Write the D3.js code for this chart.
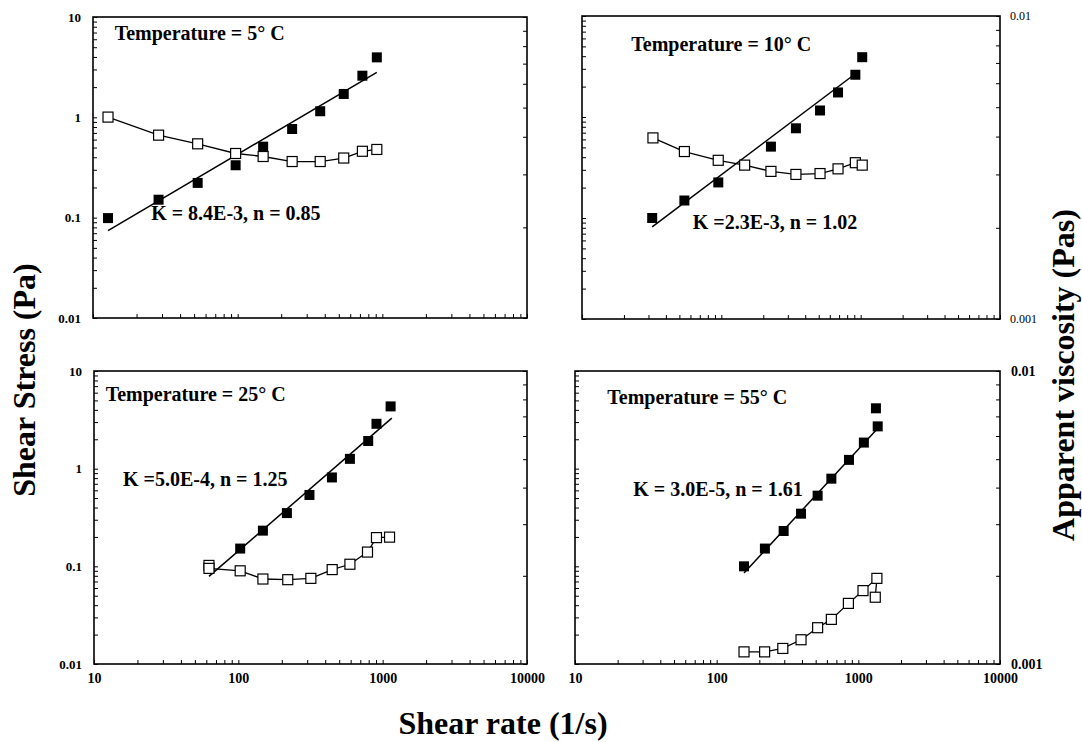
<!DOCTYPE html>
<html>
<head>
<meta charset="utf-8">
<script src="https://cdn.jsdelivr.net/npm/d3@7"></script>
<style>
  body { margin: 0; background: #fff; }
  text { font-family: "Liberation Serif", "Times New Roman", serif; font-weight: bold; fill: #000; }
</style>
</head>
<body>
<svg id="chart" width="1082" height="742"></svg>
<script>
// ---- data ----
var temps = ["5", "10", "25", "55"];
var fitLabels = ["K = 8.4E-3, n = 0.85", "K =2.3E-3, n = 1.02", "K =5.0E-4, n = 1.25", "K = 3.0E-5, n = 1.61"];

var rateTicks = [10, 100, 1000, 10000];
var stressTicks = [0.01, 0.1, 1, 10];
var viscTicks = [0.001, 0.01];

// 5 C
var stressRate5 = [12.7, 28.4, 52.9, 96.8, 150, 238, 372, 541, 728, 916];
var stress5 = [0.099, 0.151, 0.222, 0.333, 0.51, 0.765, 1.15, 1.71, 2.6, 3.96];
var viscRate5 = [12.7, 28.4, 52.9, 96.8, 150, 238, 372, 541, 728, 916];
var visc5 = [0.00465, 0.00405, 0.00379, 0.00352, 0.00344, 0.00331, 0.00331, 0.0034, 0.00358, 0.00363];
var fit5 = [[12.7, 0.0742], [916, 2.81]];

// 10 C
var stressRate10 = [31.9, 54.3, 95.1, 227, 343, 511, 688, 916, 1026];
var stress10 = [0.1, 0.149, 0.225, 0.509, 0.773, 1.16, 1.75, 2.62, 3.91];
var viscRate10 = [32.3, 54.3, 95, 147, 227, 343, 511, 688, 916, 1026];
var visc10 = [0.00396, 0.00357, 0.00334, 0.00322, 0.00307, 0.0030, 0.00302, 0.00313, 0.00328, 0.00322];
var fit10 = [[31.9, 0.0815], [916, 2.68]];

// 25 C
var stressRate25 = [103, 148, 217, 311, 445, 593, 794, 906, 1135];
var stress25 = [0.152, 0.232, 0.351, 0.538, 0.813, 1.26, 1.92, 2.88, 4.34];
var viscRate25 = [62.6, 62.6, 103, 148, 220, 318, 447, 593, 785, 906, 1116];
var visc25 = [0.00217, 0.00212, 0.00208, 0.00195, 0.00194, 0.00196, 0.0021, 0.00219, 0.00241, 0.0027, 0.00271];
var fit25 = [[62.6, 0.0788], [1157, 3.29]];

// 55 C
var stressRate55 = [156, 219, 297, 394, 516, 645, 859, 1094, 1370, 1331];
var stress55 = [0.1, 0.152, 0.23, 0.346, 0.529, 0.79, 1.23, 1.85, 2.71, 4.15];
var viscRate55 = [156, 218, 293, 394, 516, 645, 851, 1079, 1352, 1317];
var visc55 = [0.0011, 0.0011, 0.00113, 0.00121, 0.00133, 0.00142, 0.00161, 0.00178, 0.00196, 0.00169];
var fit55 = [[156, 0.0855], [1378, 2.61]];

// ---- layout ----
var panels = [
  {x0: 93, x1: 527, y0: 17, y1: 318, left: true, right: false, bottom: false,
   sr: stressRate5, s: stress5, vr: viscRate5, v: visc5, fit: fit5,
   tPos: [0.05, 0.075], kPos: [0.134, 0.673]},
  {x0: 582, x1: 1000, y0: 16, y1: 319, left: false, right: true, bottom: false,
   rightWeight: 'normal', rightSize: '12px', rightPad: 10,
   sr: stressRate10, s: stress10, vr: viscRate10, v: visc10, fit: fit10,
   tPos: [0.118, 0.114], kPos: [0.265, 0.704]},
  {x0: 94, x1: 527, y0: 371, y1: 664, left: true, right: false, bottom: true,
   sr: stressRate25, s: stress25, vr: viscRate25, v: visc25, fit: fit25,
   tPos: [0.027, 0.103], kPos: [0.067, 0.391]},
  {x0: 575, x1: 1000, y0: 371, y1: 664, left: false, right: true, bottom: true,
   rightWeight: 'bold', rightSize: '14px', rightPad: 11,
   sr: stressRate55, s: stress55, vr: viscRate55, v: visc55, fit: fit55,
   tPos: [0.076, 0.111], kPos: [0.137, 0.426]}
];

var svg = d3.select('#chart');
var fmt = d3.format('~g');
var msize = 10;

function styleLabels(a, weight, size) {
  a.select('.domain').remove();
  a.selectAll('text').style('font-family', '"Liberation Serif", serif')
    .style('font-weight', weight).style('font-size', size);
}

panels.forEach(function(p, i) {
  var x = d3.scaleLog().domain([10, 10000]).range([p.x0, p.x1]);
  var yS = d3.scaleLog().domain([0.01, 10]).range([p.y1, p.y0]);
  var yV = d3.scaleLog().domain([0.001, 0.01]).range([p.y1, p.y0]);
  var g = svg.append('g');

  // inward minor ticks
  g.append('g').attr('transform', 'translate(' + p.x0 + ',0)')
    .call(d3.axisRight(yS).tickValues(yS.ticks()).tickSize(4).tickFormat(''))
    .call(function(a) { a.select('.domain').remove(); });
  g.append('g').attr('transform', 'translate(' + p.x1 + ',0)')
    .call(d3.axisLeft(yV).tickValues(yV.ticks()).tickSize(4).tickFormat(''))
    .call(function(a) { a.select('.domain').remove(); });
  g.append('g').attr('transform', 'translate(0,' + p.y1 + ')')
    .call(d3.axisTop(x).tickValues(x.ticks()).tickSize(4).tickFormat(''))
    .call(function(a) { a.select('.domain').remove(); });
  g.selectAll('.tick line').attr('stroke', '#000').attr('stroke-width', 1);

  // frame
  g.append('rect')
    .attr('x', p.x0).attr('y', p.y0)
    .attr('width', p.x1 - p.x0).attr('height', p.y1 - p.y0)
    .attr('fill', 'none').attr('stroke', '#000').attr('stroke-width', 1.6);

  // tick labels
  if (p.left) {
    g.append('g').attr('transform', 'translate(' + p.x0 + ',0)')
      .call(d3.axisLeft(yS).tickValues(stressTicks).tickFormat(fmt).tickSize(0).tickPadding(12))
      .call(function(a) { styleLabels(a, 'bold', '13px'); });
  }
  if (p.right) {
    g.append('g').attr('transform', 'translate(' + p.x1 + ',0)')
      .call(d3.axisRight(yV).tickValues(viscTicks).tickFormat(fmt).tickSize(0).tickPadding(p.rightPad))
      .call(function(a) { styleLabels(a, p.rightWeight, p.rightSize); });
  }
  if (p.bottom) {
    g.append('g').attr('transform', 'translate(0,' + p.y1 + ')')
      .call(d3.axisBottom(x).tickValues(rateTicks).tickFormat(fmt).tickSize(0).tickPadding(9))
      .call(function(a) { styleLabels(a, 'bold', '14px'); });
  }

  // viscosity line + power-law fit
  var vPts = p.vr.map(function(r, j) { return [r, p.v[j]]; });
  var sPts = p.sr.map(function(r, j) { return [r, p.s[j]]; });
  g.append('path').datum(vPts)
    .attr('d', d3.line().x(function(d) { return x(d[0]); }).y(function(d) { return yV(d[1]); }))
    .attr('fill', 'none').attr('stroke', '#000').attr('stroke-width', 1.3);
  g.append('path').datum(p.fit)
    .attr('d', d3.line().x(function(d) { return x(d[0]); }).y(function(d) { return yS(d[1]); }))
    .attr('fill', 'none').attr('stroke', '#000').attr('stroke-width', 1.5);

  g.selectAll('rect.filled').data(sPts).enter().append('rect')
    .attr('class', 'filled')
    .attr('x', function(d) { return x(d[0]) - msize / 2; })
    .attr('y', function(d) { return yS(d[1]) - msize / 2; })
    .attr('width', msize).attr('height', msize)
    .attr('fill', '#000');
  g.selectAll('rect.open').data(vPts).enter().append('rect')
    .attr('class', 'open')
    .attr('x', function(d) { return x(d[0]) - msize / 2; })
    .attr('y', function(d) { return yV(d[1]) - msize / 2; })
    .attr('width', msize).attr('height', msize)
    .attr('fill', '#fff').attr('stroke', '#000').attr('stroke-width', 1.2);

  // annotations
  var w = p.x1 - p.x0, h = p.y1 - p.y0;
  g.append('text')
    .attr('x', p.x0 + w * p.tPos[0]).attr('y', p.y0 + h * p.tPos[1])
    .style('font-size', '20px')
    .text('Temperature = ' + temps[i] + '\u00b0 C');
  g.append('text')
    .attr('x', p.x0 + w * p.kPos[0]).attr('y', p.y0 + h * p.kPos[1])
    .style('font-size', '20px')
    .text(fitLabels[i]);
});

// axis titles
svg.append('text')
  .attr('transform', 'translate(35,380) rotate(-90)')
  .attr('text-anchor', 'middle')
  .style('font-size', '32px')
  .text('Shear Stress (Pa)');
svg.append('text')
  .attr('transform', 'translate(1074,375) rotate(-90)')
  .attr('text-anchor', 'middle')
  .style('font-size', '32px')
  .text('Apparent viscosity (Pas)');
svg.append('text')
  .attr('x', 503).attr('y', 734)
  .attr('text-anchor', 'middle')
  .style('font-size', '32px')
  .text('Shear rate (1/s)');
</script>
</body>
</html>
